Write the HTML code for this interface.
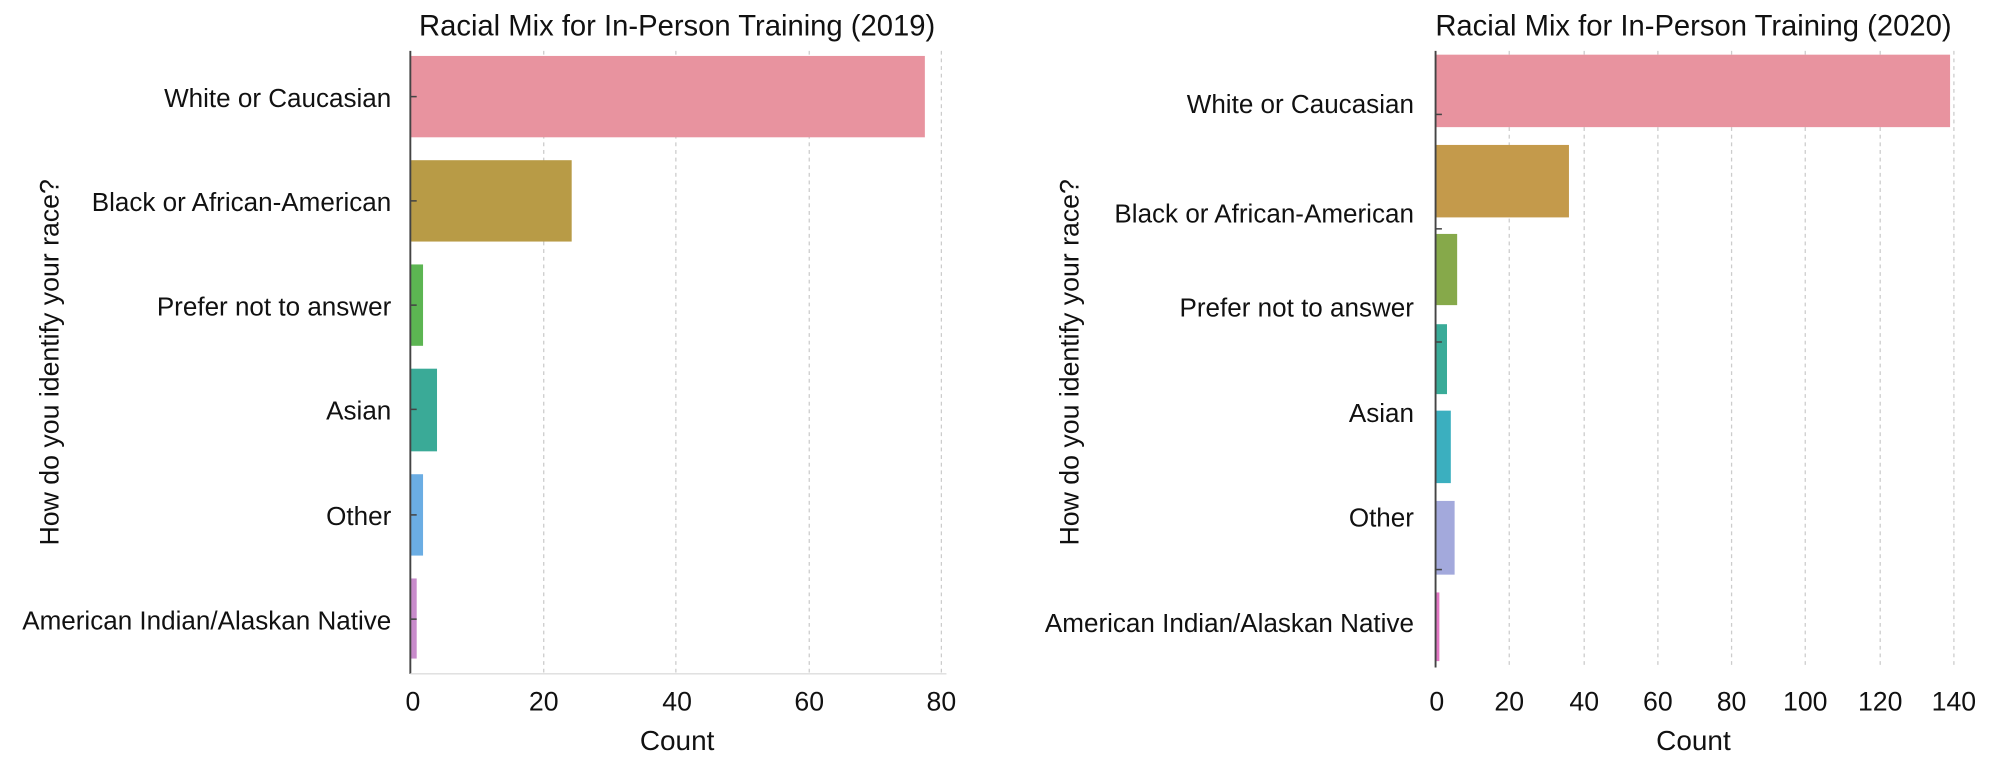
<!DOCTYPE html>
<html><head><meta charset="utf-8"><style>
html,body{margin:0;padding:0;background:#fff;}
svg{display:block;}
text{font-family:"Liberation Sans",sans-serif;fill:#111;}
</style></head><body>
<svg width="1992" height="759" viewBox="0 0 1568 597" preserveAspectRatio="none" xmlns="http://www.w3.org/2000/svg">
<!-- LEFT CHART -->
<g>
<text x="533" y="28" font-size="23" text-anchor="middle">Racial Mix for In-Person Training (2019)</text>
<g stroke="#ccc" stroke-dasharray="3,3" stroke-width="1">
<line x1="428" y1="40" x2="428" y2="530"/><line x1="532" y1="40" x2="532" y2="530"/><line x1="637" y1="40" x2="637" y2="530"/><line x1="741" y1="40" x2="741" y2="530"/>
</g>
<rect x="323" y="44" width="405" height="64" fill="#e8939f"/>
<rect x="323" y="126" width="127" height="64" fill="#b89b46"/>
<rect x="323" y="208" width="10" height="64" fill="#5cb552"/>
<rect x="323" y="290" width="21" height="65" fill="#3aaa97"/>
<rect x="323" y="373" width="10" height="64" fill="#6badE3"/>
<rect x="323" y="455" width="5" height="63" fill="#c88bcb"/>
<line x1="323" y1="40" x2="323" y2="530" stroke="#444" stroke-width="1.5"/>
<line x1="323" y1="530" x2="745" y2="530" stroke="#ddd" stroke-width="1"/>
<g stroke="#444" stroke-width="1.2"><line x1="323" y1="76" x2="328" y2="76"/><line x1="323" y1="158" x2="328" y2="158"/><line x1="323" y1="240" x2="328" y2="240"/><line x1="323" y1="322" x2="328" y2="322"/><line x1="323" y1="405" x2="328" y2="405"/><line x1="323" y1="487" x2="328" y2="487"/></g>
<g font-size="20.5" text-anchor="end">
<text x="308" y="84">White or Caucasian</text>
<text x="308" y="166">Black or African-American</text>
<text x="308" y="248">Prefer not to answer</text>
<text x="308" y="330">Asian</text>
<text x="308" y="413">Other</text>
<text x="308" y="495">American Indian/Alaskan Native</text>
</g>
<g font-size="21" text-anchor="middle">
<text x="325" y="559">0</text><text x="428" y="559">20</text><text x="533" y="559">40</text><text x="637" y="559">60</text><text x="741" y="559">80</text>
</g>
<text x="533" y="590" font-size="22" text-anchor="middle">Count</text>
<text transform="translate(46,285) rotate(-90)" font-size="21" text-anchor="middle">How do you identify your race?</text>
</g>
<!-- RIGHT CHART -->
<g>
<text x="1333" y="28" font-size="23" text-anchor="middle">Racial Mix for In-Person Training (2020)</text>
<g stroke="#ccc" stroke-dasharray="3,3" stroke-width="1">
<line x1="1188" y1="40" x2="1188" y2="525"/><line x1="1247" y1="40" x2="1247" y2="525"/><line x1="1305" y1="40" x2="1305" y2="525"/><line x1="1363" y1="40" x2="1363" y2="525"/><line x1="1421" y1="40" x2="1421" y2="525"/><line x1="1480" y1="40" x2="1480" y2="525"/><line x1="1538" y1="40" x2="1538" y2="525"/>
</g>
<rect x="1130" y="43" width="405" height="57" fill="#e8939f"/>
<rect x="1130" y="114" width="105" height="57" fill="#c49a4b"/>
<rect x="1130" y="184" width="17" height="56" fill="#86a94a"/>
<rect x="1130" y="255" width="9" height="55" fill="#3aab98"/>
<rect x="1130" y="323" width="12" height="57" fill="#3bafbf"/>
<rect x="1130" y="394" width="15" height="58" fill="#a3a9dc"/>
<rect x="1130" y="466" width="3" height="54" fill="#e277c3"/>
<line x1="1130" y1="40" x2="1130" y2="525" stroke="#444" stroke-width="1.5"/>
<g stroke="#444" stroke-width="1.2"><line x1="1130" y1="90" x2="1135" y2="90"/><line x1="1130" y1="180" x2="1135" y2="180"/><line x1="1130" y1="269" x2="1135" y2="269"/><line x1="1130" y1="448" x2="1135" y2="448"/></g>
<g font-size="20.5" text-anchor="end">
<text x="1113" y="89">White or Caucasian</text>
<text x="1113" y="175">Black or African-American</text>
<text x="1113" y="249">Prefer not to answer</text>
<text x="1113" y="332">Asian</text>
<text x="1113" y="414">Other</text>
<text x="1113" y="497">American Indian/Alaskan Native</text>
</g>
<g font-size="21" text-anchor="middle">
<text x="1131" y="559">0</text><text x="1188" y="559">20</text><text x="1247" y="559">40</text><text x="1305" y="559">60</text><text x="1363" y="559">80</text><text x="1421" y="559">100</text><text x="1480" y="559">120</text><text x="1538" y="559">140</text>
</g>
<text x="1333" y="590" font-size="22" text-anchor="middle">Count</text>
<text transform="translate(849,285) rotate(-90)" font-size="21" text-anchor="middle">How do you identify your race?</text>
</g>
</svg>
</body></html>
